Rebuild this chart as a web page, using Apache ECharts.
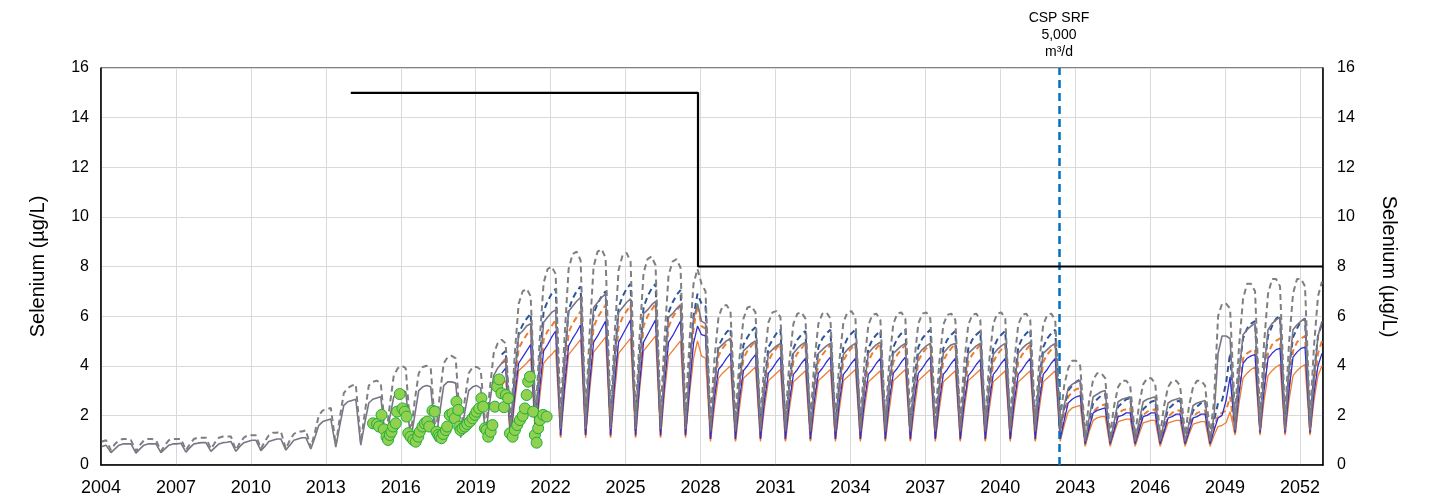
<!DOCTYPE html>
<html>
<head>
<meta charset="utf-8">
<script src="https://cdn.jsdelivr.net/npm/echarts@6/dist/echarts.min.js"></script>
<style>
html,body{margin:0;padding:0;background:#fff;}
#chart{width:1431px;height:504px;}
</style>
</head>
<body>
<div id="chart"></div>
<script>
// ---- time layout: 6 readings per year (Jan, Mar, May, Jul, Sep, Nov) ----
const monthOffsets = [0.04, 0.2, 0.4, 0.56, 0.72, 0.88];
const greyStartYear = 2004;
const scenarioStartYear = 2020;

// grey solid (rows 2004..2052)
const greySolid = [
[0.75,0.8,0.5,0.65,0.8,0.85],
[0.85,0.85,0.48,0.65,0.8,0.85],
[0.85,0.85,0.5,0.65,0.8,0.85],
[0.85,0.88,0.52,0.7,0.85,0.88],
[0.9,0.9,0.55,0.7,0.85,0.9],
[0.92,0.95,0.55,0.75,0.9,0.95],
[1.0,1.0,0.58,0.75,0.95,1.0],
[1.05,1.05,0.6,0.8,1.0,1.05],
[1.1,1.1,0.65,1.1,1.6,1.75],
[1.8,1.85,0.72,1.6,2.4,2.55],
[2.6,2.65,0.8,1.7,2.5,2.65],
[2.7,2.75,0.95,1.9,2.75,2.9],
[3.0,2.95,1.0,2.0,3.0,3.15],
[3.2,3.15,0.95,2.1,3.2,3.35],
[3.35,3.3,1.1,2.1,3.0,3.15],
[3.2,3.1,1.2,2.5,3.6,3.9],
[4.1,4.2,1.2,3.4,5.25,5.4],
[5.6,5.7,1.45,3.85,5.75,5.95],
[6.15,6.25,1.45,4.1,6.2,6.4],
[6.6,6.75,1.45,4.15,6.35,6.55],
[6.75,6.9,1.45,4.05,6.15,6.35],
[6.55,6.7,1.45,4.0,6.1,6.25],
[6.45,6.6,1.45,3.95,5.95,6.1],
[6.3,6.45,1.45,3.8,5.9,6.5],
[5.8,5.7,1.35,3.3,4.7,4.85],
[5.0,5.1,1.35,3.25,4.6,4.75],
[4.9,5.0,1.35,3.2,4.5,4.65],
[4.8,4.9,1.35,3.2,4.5,4.7],
[4.85,4.95,1.35,3.2,4.5,4.65],
[4.8,4.9,1.35,3.15,4.45,4.65],
[4.8,4.9,1.35,3.2,4.5,4.7],
[4.85,4.95,1.35,3.2,4.5,4.65],
[4.8,4.9,1.35,3.15,4.45,4.65],
[4.8,4.9,1.35,3.2,4.5,4.7],
[4.85,4.9,1.35,3.2,4.5,4.65],
[4.8,4.9,1.35,3.15,4.45,4.65],
[4.8,4.9,1.35,3.2,4.5,4.7],
[4.85,4.95,1.35,3.2,4.5,4.65],
[4.8,4.9,1.35,2.4,3.1,3.25],
[3.35,3.4,0.95,1.9,2.75,2.85],
[2.95,3.0,0.95,1.75,2.55,2.65],
[2.7,2.75,0.95,1.75,2.55,2.65],
[2.7,2.75,0.95,1.75,2.5,2.6],
[2.65,2.7,0.95,1.7,2.4,2.5],
[2.55,2.6,0.95,2.0,4.5,5.2],
[5.2,5.1,1.4,3.7,5.25,5.45],
[5.6,5.7,1.4,3.8,5.45,5.7],
[5.85,5.95,1.4,3.85,5.45,5.65],
[5.8,5.9,1.4,3.5,5.2,5.8]
];

// grey dashed (rows 2004..2052)
const greyDashed = [
[0.95,1.0,0.6,0.85,1.0,1.05],
[1.05,1.0,0.55,0.8,1.0,1.05],
[1.05,1.0,0.55,0.8,1.0,1.05],
[1.05,1.05,0.6,0.85,1.05,1.1],
[1.1,1.1,0.65,0.9,1.1,1.15],
[1.15,1.15,0.6,0.9,1.1,1.2],
[1.2,1.2,0.65,0.95,1.2,1.3],
[1.3,1.35,0.65,1.0,1.25,1.35],
[1.35,1.4,0.7,1.3,2.0,2.2],
[2.25,2.3,0.8,1.9,2.9,3.1],
[3.2,3.25,0.9,2.1,3.2,3.35],
[3.4,3.3,1.1,2.4,3.6,3.9],
[4.0,3.9,1.2,2.6,3.7,3.95],
[4.0,3.9,1.2,2.8,4.1,4.35],
[4.4,4.3,1.3,2.6,3.7,3.95],
[3.95,3.85,1.4,3.0,4.5,4.9],
[5.05,4.9,1.6,4.4,6.5,7.0],
[7.1,6.8,2.0,5.0,7.35,7.9],
[8.0,7.7,2.0,5.2,7.9,8.5],
[8.6,8.25,2.0,5.3,8.0,8.6],
[8.7,8.35,2.0,5.2,7.85,8.45],
[8.55,8.2,2.0,5.15,7.75,8.3],
[8.4,8.05,2.0,5.1,7.65,8.2],
[8.3,7.95,2.0,5.0,7.3,7.9],
[7.3,7.0,1.8,4.3,5.95,6.4],
[6.45,6.2,1.8,4.3,5.9,6.35],
[6.4,6.15,1.8,4.2,5.75,6.15],
[6.2,5.95,1.8,4.2,5.7,6.1],
[6.15,5.9,1.8,4.2,5.7,6.1],
[6.15,5.9,1.8,4.2,5.75,6.15],
[6.2,5.95,1.8,4.15,5.65,6.05],
[6.1,5.85,1.8,4.2,5.7,6.1],
[6.15,5.9,1.8,4.2,5.7,6.1],
[6.15,5.9,1.8,4.15,5.65,6.05],
[6.1,5.85,1.8,4.15,5.65,6.05],
[6.1,5.85,1.8,4.2,5.7,6.1],
[6.15,5.9,1.8,4.15,5.65,6.05],
[6.1,5.85,1.8,4.15,5.65,6.05],
[6.1,5.85,1.8,3.2,3.9,4.2],
[4.2,4.0,1.2,2.6,3.45,3.7],
[3.7,3.5,1.2,2.4,3.15,3.4],
[3.4,3.2,1.2,2.45,3.25,3.5],
[3.5,3.3,1.2,2.4,3.15,3.4],
[3.4,3.2,1.2,2.4,3.15,3.4],
[3.4,3.2,1.2,2.6,6.0,6.5],
[6.5,6.3,1.9,4.8,6.7,7.3],
[7.3,7.0,1.9,4.9,6.9,7.5],
[7.5,7.2,1.9,4.9,6.9,7.5],
[7.5,7.2,1.9,4.8,6.8,7.4]
];

// blue dashed (rows 2020..2052)
const blueDashed = [
[4.45,4.6,1.35,3.6,5.3,5.65],
[5.9,6.1,1.55,4.2,6.2,6.6],
[6.9,7.1,1.55,4.3,6.25,6.7],
[7.0,7.2,1.55,4.2,6.1,6.5],
[6.8,7.0,1.55,4.35,6.35,6.8],
[7.1,7.3,1.55,4.35,6.35,6.8],
[7.1,7.3,1.55,4.2,6.15,6.55],
[6.85,7.05,1.55,4.1,6.0,6.9],
[6.5,6.4,1.45,3.4,4.8,5.1],
[5.35,5.5,1.45,3.4,4.85,5.15],
[5.4,5.55,1.45,3.35,4.75,5.05],
[5.3,5.45,1.45,3.35,4.7,5.05],
[5.25,5.4,1.45,3.35,4.75,5.1],
[5.3,5.45,1.45,3.35,4.75,5.1],
[5.3,5.45,1.45,3.35,4.7,5.05],
[5.25,5.4,1.45,3.35,4.75,5.1],
[5.3,5.45,1.45,3.35,4.75,5.1],
[5.3,5.45,1.45,3.35,4.7,5.05],
[5.25,5.4,1.45,3.35,4.7,5.05],
[5.25,5.4,1.45,3.35,4.7,5.05],
[5.25,5.4,1.45,3.35,4.75,5.1],
[5.3,5.45,1.45,3.35,4.75,5.1],
[5.3,5.45,1.45,2.3,3.0,3.2],
[3.35,3.45,1.0,1.8,2.5,2.65],
[2.8,2.85,1.0,1.7,2.35,2.5],
[2.65,2.7,1.0,1.65,2.25,2.4],
[2.55,2.6,1.0,1.65,2.25,2.4],
[2.55,2.6,1.0,1.65,2.2,2.35],
[2.5,2.55,1.0,1.8,2.5,2.6],
[3.3,4.5,1.5,3.8,5.1,5.5],
[5.7,5.8,1.5,3.9,5.2,5.6],
[5.9,6.0,1.5,3.85,5.15,5.5],
[5.8,5.9,1.5,3.7,5.2,5.7]
];

// blue solid (rows 2020..2052)
const blueSolid = [
[3.7,3.9,1.1,2.75,4.1,4.35],
[4.6,4.85,1.2,3.05,4.6,4.85],
[5.15,5.4,1.2,3.2,4.8,5.1],
[5.35,5.65,1.2,3.25,4.95,5.2],
[5.5,5.8,1.2,3.25,4.95,5.25],
[5.55,5.85,1.2,3.25,4.95,5.25],
[5.55,5.85,1.2,3.25,4.95,5.2],
[5.5,5.8,1.2,3.1,4.9,5.6],
[5.25,5.2,1.05,2.7,3.85,4.05],
[4.3,4.5,1.05,2.65,3.8,4.0],
[4.25,4.45,1.05,2.6,3.7,3.9],
[4.15,4.35,1.05,2.55,3.65,3.85],
[4.1,4.3,1.05,2.6,3.7,3.9],
[4.15,4.35,1.05,2.55,3.65,3.85],
[4.1,4.3,1.05,2.55,3.65,3.85],
[4.1,4.3,1.05,2.6,3.7,3.9],
[4.15,4.35,1.05,2.6,3.7,3.9],
[4.15,4.35,1.05,2.55,3.65,3.85],
[4.1,4.3,1.05,2.55,3.6,3.8],
[4.05,4.25,1.05,2.55,3.65,3.85],
[4.1,4.3,1.05,2.55,3.65,3.85],
[4.1,4.3,1.05,2.55,3.65,3.85],
[4.1,4.3,1.05,1.8,2.5,2.65],
[2.75,2.8,0.85,1.5,2.1,2.2],
[2.25,2.3,0.85,1.4,1.95,2.0],
[2.1,2.1,0.85,1.4,1.95,2.0],
[2.1,2.1,0.85,1.35,1.9,1.95],
[2.05,2.05,0.85,1.35,1.9,1.95],
[2.05,2.05,0.85,1.4,1.9,2.0],
[2.6,3.55,1.3,2.9,4.1,4.3],
[4.4,4.45,1.3,3.0,4.3,4.5],
[4.65,4.7,1.3,3.0,4.35,4.55],
[4.7,4.75,1.3,2.9,4.0,4.5]
];

// orange dashed (rows 2020..2052)
const orangeDashed = [
[4.1,4.3,1.05,3.05,4.7,5.0],
[5.25,5.45,1.15,3.4,5.05,5.4],
[5.6,5.85,1.15,3.45,5.35,5.7],
[5.95,6.2,1.15,3.6,5.55,5.95],
[6.2,6.45,1.15,3.6,5.55,5.95],
[6.2,6.45,1.15,3.6,5.6,6.0],
[6.25,6.5,1.15,3.6,5.55,5.95],
[6.2,6.45,1.15,3.5,5.5,6.45],
[5.6,5.5,1.0,2.95,4.4,4.7],
[4.9,5.1,1.0,2.9,4.3,4.6],
[4.8,5.0,1.0,2.85,4.2,4.5],
[4.7,4.9,1.0,2.85,4.2,4.5],
[4.7,4.9,1.0,2.8,4.15,4.45],
[4.65,4.85,1.0,2.85,4.2,4.5],
[4.7,4.9,1.0,2.85,4.2,4.5],
[4.7,4.9,1.0,2.8,4.15,4.45],
[4.65,4.85,1.0,2.85,4.2,4.5],
[4.7,4.9,1.0,2.85,4.2,4.5],
[4.7,4.9,1.0,2.8,4.15,4.45],
[4.65,4.85,1.0,2.8,4.15,4.45],
[4.65,4.85,1.0,2.8,4.15,4.45],
[4.65,4.85,1.0,2.8,4.15,4.45],
[4.65,4.85,1.0,1.95,2.75,2.95],
[3.05,3.1,0.8,1.5,2.15,2.3],
[2.4,2.45,0.8,1.45,2.05,2.2],
[2.25,2.3,0.8,1.45,2.0,2.15],
[2.2,2.25,0.8,1.4,1.95,2.1],
[2.2,2.2,0.8,1.4,1.95,2.1],
[2.15,2.2,0.8,1.5,2.0,2.1],
[2.2,2.75,1.25,2.9,4.3,4.5],
[4.6,4.65,1.25,3.1,4.5,4.85],
[5.0,5.1,1.25,3.15,4.6,4.95],
[5.1,5.2,1.25,3.1,4.5,5.0]
];

// orange solid (rows 2020..2052)
const orangeSolid = [
[3.2,3.4,1.0,2.5,3.8,3.95],
[4.1,4.3,1.1,2.7,4.1,4.3],
[4.45,4.65,1.1,2.9,4.45,4.65],
[4.85,5.05,1.1,2.95,4.55,4.75],
[4.95,5.15,1.1,2.9,4.5,4.7],
[4.9,5.1,1.1,3.0,4.6,4.8],
[5.0,5.2,1.1,2.9,4.4,4.6],
[4.8,5.0,1.1,2.85,4.3,5.0],
[4.4,4.3,0.95,2.35,3.5,3.7],
[3.85,4.0,0.95,2.3,3.5,3.65],
[3.8,3.95,0.95,2.3,3.4,3.55],
[3.7,3.85,0.95,2.25,3.35,3.5],
[3.65,3.8,0.95,2.25,3.4,3.55],
[3.7,3.85,0.95,2.25,3.4,3.55],
[3.7,3.85,0.95,2.25,3.35,3.5],
[3.65,3.8,0.95,2.25,3.4,3.55],
[3.7,3.85,0.95,2.25,3.4,3.55],
[3.7,3.85,0.95,2.25,3.35,3.5],
[3.65,3.8,0.95,2.25,3.4,3.55],
[3.7,3.85,0.95,2.25,3.35,3.5],
[3.65,3.8,0.95,2.25,3.35,3.5],
[3.65,3.8,0.95,2.25,3.35,3.5],
[3.65,3.8,0.95,1.6,2.15,2.3],
[2.35,2.4,0.75,1.35,1.8,1.9],
[1.95,1.95,0.75,1.3,1.75,1.8],
[1.85,1.85,0.75,1.25,1.7,1.75],
[1.8,1.8,0.75,1.25,1.7,1.75],
[1.8,1.8,0.75,1.25,1.65,1.7],
[1.75,1.75,0.75,1.2,1.55,1.6],
[1.7,2.15,1.2,2.5,3.5,3.7],
[3.85,3.95,1.2,2.6,3.6,3.8],
[3.95,4.05,1.2,2.6,3.6,3.8],
[3.95,4.05,1.2,2.6,3.6,4.0]
];

// observed samples (green dots)
const obsYears = [2014.89,2015.05,2015.23,2015.13,2015.32,2015.43,2015.49,2015.56,2015.63,2015.69,2015.8,2015.96,2015.85,2016.07,2016.16,2016.23,2016.3,2016.39,2016.5,2016.6,2016.7,2016.76,2016.87,2016.96,2017.06,2017.14,2017.27,2017.36,2017.43,2017.5,2017.56,2017.63,2017.7,2017.8,2017.86,2017.96,2018.07,2018.16,2018.23,2018.3,2018.34,2018.39,2018.47,2018.57,2018.66,2018.77,2018.87,2018.97,2019.03,2019.14,2019.23,2019.3,2019.37,2019.43,2019.5,2019.6,2019.67,2019.77,2019.86,2019.94,2020.03,2020.13,2020.21,2020.3,2020.37,2020.48,2020.57,2020.66,2020.77,2020.88,2020.97,2021.04,2021.1,2021.17,2021.3,2021.37,2021.44,2021.5,2021.57,2021.7,2021.84];
const obsValues = [1.68,1.65,2.02,1.55,1.44,1.14,1.01,1.21,1.34,1.55,1.68,2.86,2.15,2.28,2.15,1.95,1.28,1.14,1.01,0.94,1.14,1.34,1.55,1.68,1.75,1.55,2.19,2.15,1.34,1.21,1.14,1.08,1.25,1.41,1.55,2.02,2.08,1.88,2.55,2.22,1.55,1.41,1.48,1.55,1.65,1.75,1.88,2.02,2.15,2.28,2.69,2.35,1.48,1.41,1.14,1.34,1.61,2.35,3.16,3.45,2.89,2.33,2.82,2.69,1.28,1.14,1.41,1.61,1.81,1.98,2.28,2.82,3.36,3.56,2.15,1.21,0.9,1.48,1.81,2.02,1.95];

// guideline step (x, y)
const guideX = [2014, 2027.9, 2027.9, 2052.92];
const guideY = [15, 15, 8, 8];

// CSP SRF marker
const srfYear = 2042.35;
const srfLabel = 'CSP SRF\n5,000\nm³/d';

// axes
const xMin = 2004, xMax = 2052.92, xStep = 3;
const yMin = 0, yMax = 16, yStep = 2;
const yName = 'Selenium (µg/L)';

function toPairs(rows, startYear) {
  const out = [];
  rows.forEach((r, i) => r.forEach((v, k) => out.push([startYear + i + monthOffsets[k], v])));
  return out;
}

const FONT = '"Liberation Sans", Arial, sans-serif';
const chart = echarts.init(document.getElementById('chart'), null, {renderer: 'canvas'});

function lineSeries(name, data, color, width, type, z) {
  return {
    name, type: 'line', data, showSymbol: false, symbol: 'none', z,
    lineStyle: {color, width, type}, silent: true, animation: false
  };
}

const option = {
  animation: false,
  backgroundColor: '#fff',
  grid: {left: 101, right: 108, top: 68, bottom: 39, show: true, borderColor: '#000', borderWidth: 1, backgroundColor: 'transparent'},
  xAxis: {
    type: 'value', min: xMin, max: xMax, interval: xStep,
    axisLine: {show: true, lineStyle: {color: '#000', width: 1.5}},
    axisTick: {show: false},
    axisLabel: {color: '#000', fontSize: 18, fontFamily: FONT, margin: 14, showMaxLabel: false,
      formatter: v => String(Math.round(v))},
    splitLine: {show: true, lineStyle: {color: '#d9d9d9', width: 1}}
  },
  yAxis: [
    {
      type: 'value', min: yMin, max: yMax, interval: yStep, position: 'left',
      name: yName, nameLocation: 'middle', nameGap: 53, nameRotate: 90,
      nameTextStyle: {color: '#000', fontSize: 20, fontFamily: FONT},
      axisLine: {show: true, lineStyle: {color: '#000', width: 1.5}},
      axisTick: {show: false},
      axisLabel: {color: '#000', fontSize: 16, fontFamily: FONT, margin: 12},
      splitLine: {show: true, lineStyle: {color: '#d9d9d9', width: 1}}
    },
    {
      type: 'value', min: yMin, max: yMax, interval: yStep, position: 'right',
      name: yName, nameLocation: 'middle', nameGap: 56, nameRotate: -90,
      nameTextStyle: {color: '#000', fontSize: 20, fontFamily: FONT},
      axisLine: {show: true, lineStyle: {color: '#000', width: 1.5}},
      axisTick: {show: false},
      axisLabel: {color: '#000', fontSize: 16, fontFamily: FONT, margin: 14},
      splitLine: {show: false}
    }
  ],
  series: [
    lineSeries('Orange solid', toPairs(orangeSolid, scenarioStartYear), '#ed7d31', 1.3, 'solid', 2),
    lineSeries('Orange dashed', toPairs(orangeDashed, scenarioStartYear), '#ed7d31', 2, [6, 4], 3),
    lineSeries('Blue solid', toPairs(blueSolid, scenarioStartYear), '#2f2fd0', 1.3, 'solid', 4),
    lineSeries('Blue dashed', toPairs(blueDashed, scenarioStartYear), '#2f5597', 2, [6, 4], 5),
    lineSeries('Grey solid', toPairs(greySolid, greyStartYear), '#7a7586', 1.6, 'solid', 6),
    lineSeries('Grey dashed', toPairs(greyDashed, greyStartYear), '#7f7f7f', 2, [6, 4], 7),
    {
      name: 'Guideline', type: 'line', z: 8, showSymbol: false, symbol: 'none', silent: true,
      data: guideX.map((x, i) => [x, guideY[i]]),
      lineStyle: {color: '#000', width: 2.2}
    },
    {
      name: 'SRF', type: 'line', z: 9, data: [], silent: true,
      markLine: {
        silent: true, symbol: 'none', animation: false,
        lineStyle: {color: '#0070c0', width: 2.5, type: [8, 5]},
        label: {show: true, position: 'end', formatter: srfLabel, color: '#000', fontSize: 14, fontFamily: FONT, lineHeight: 17, distance: 7},
        data: [[{coord: [srfYear, yMin]}, {coord: [srfYear, yMax]}]]
      }
    },
    {
      name: 'Observed', type: 'scatter', z: 10, silent: true,
      data: obsYears.map((x, i) => [x, obsValues[i]]),
      symbolSize: 11,
      itemStyle: {color: '#92d050', borderColor: '#1fae3a', borderWidth: 1, opacity: 1}
    }
  ]
};
chart.setOption(option);
</script>
</body>
</html>
